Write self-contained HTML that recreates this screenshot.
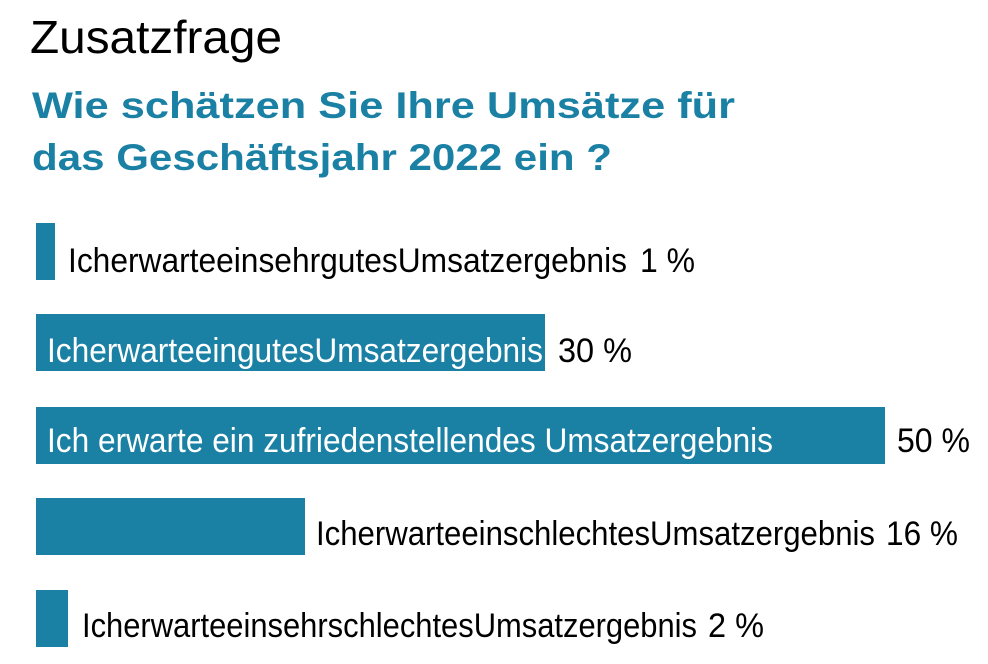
<!DOCTYPE html>
<html><head><meta charset="utf-8"><style>
html,body{margin:0;padding:0;background:#fff;}
svg{display:block;}
text{font-family:"Liberation Sans",sans-serif;}
</style></head><body>
<svg width="988" height="664" viewBox="0 0 988 664" xmlns="http://www.w3.org/2000/svg">
<text x="30" y="53" font-size="46" fill="#000" textLength="252" lengthAdjust="spacingAndGlyphs">Zusatzfrage</text>
<text x="32" y="118" font-size="37" font-weight="bold" fill="#1a80a4" textLength="703" lengthAdjust="spacingAndGlyphs">Wie schätzen Sie Ihre Umsätze für</text>
<text x="32" y="170" font-size="37" font-weight="bold" fill="#1a80a4" textLength="580" lengthAdjust="spacingAndGlyphs">das Geschäftsjahr 2022 ein ?</text>
<g fill="#1a80a4">
<rect x="36" y="223" width="19" height="57"/>
<rect x="36" y="314" width="509" height="57"/>
<rect x="36" y="407" width="849" height="57"/>
<rect x="36" y="498" width="269" height="57"/>
<rect x="36" y="590" width="32" height="57"/>
</g>
<g font-size="34">
<text x="68" y="272" fill="#000" textLength="559" lengthAdjust="spacingAndGlyphs">IcherwarteeinsehrgutesUmsatzergebnis</text>
<text x="640" y="272" fill="#000" textLength="55" lengthAdjust="spacingAndGlyphs">1 %</text>
<text x="47" y="362" fill="#fff" textLength="496" lengthAdjust="spacingAndGlyphs">IcherwarteeingutesUmsatzergebnis</text>
<text x="558" y="362" fill="#000" textLength="74" lengthAdjust="spacingAndGlyphs">30 %</text>
<text x="47" y="452" fill="#fff" textLength="726" lengthAdjust="spacingAndGlyphs">Ich erwarte ein zufriedenstellendes Umsatzergebnis</text>
<text x="897" y="452" fill="#000" textLength="73" lengthAdjust="spacingAndGlyphs">50 %</text>
<text x="316" y="545" fill="#000" textLength="559" lengthAdjust="spacingAndGlyphs">IcherwarteeinschlechtesUmsatzergebnis</text>
<text x="886" y="545" fill="#000" textLength="72" lengthAdjust="spacingAndGlyphs">16 %</text>
<text x="82" y="637" fill="#000" textLength="615" lengthAdjust="spacingAndGlyphs">IcherwarteeinsehrschlechtesUmsatzergebnis</text>
<text x="708" y="637" fill="#000" textLength="56" lengthAdjust="spacingAndGlyphs">2 %</text>
</g>
</svg>
</body></html>
